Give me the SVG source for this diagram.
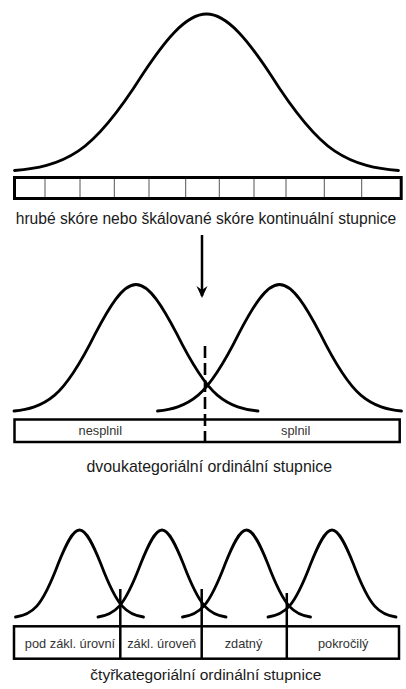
<svg xmlns="http://www.w3.org/2000/svg" xmlns:xlink="http://www.w3.org/1999/xlink" width="406" height="689" viewBox="0 0 406 689">
<style>
.curve{fill:none;stroke:#000;stroke-width:2.8;stroke-linejoin:round;stroke-linecap:round}
.box{fill:#fff;stroke:#000;stroke-width:2.5}
.cell{stroke:#555;stroke-width:1}
.cut{stroke:#000;stroke-width:2.5}
.cap{font-family:"Liberation Sans",Arial,sans-serif;fill:#1a1a1a;text-anchor:middle}
.lab{font-family:"Liberation Sans",Arial,sans-serif;font-size:12.8px;fill:#333;text-anchor:middle}
</style>
<defs>
<path id="g2" d="M-122,411 C-108.5,409.6 -94.9,406.6 -81.3,395.1 C-67.8,383.6 -54.2,360.7 -40.7,333.6 C-27.1,307.7 -13.6,284.5 0,284.5 C13.6,284.5 27.1,307.7 40.7,333.6 C54.2,360.7 67.8,383.6 81.3,395.1 C94.9,406.6 108.5,409.6 122,411"/>
<path id="g4" d="M-64,617 C-56.9,616 -49.8,614 -42.7,606.1 C-35.6,598.1 -28.4,582.4 -21.3,563.7 C-14.2,546 -7.1,530 0,530 C7.1,530 14.2,546 21.3,563.7 C28.4,582.4 35.6,598.1 42.7,606.1 C49.8,614 56.9,616 64,617"/>
<marker id="ah" viewBox="0 0 12 12" refX="10" refY="6" markerWidth="12" markerHeight="12" markerUnits="userSpaceOnUse" orient="auto">
<path d="M0,0.5 L12,6 L0,11.5 L4,6 Z" fill="#000"/>
</marker>
</defs>

<g id="continuous">
<path class="curve" d="M14.5,170.5 C35.8,168.7 57.2,165.1 78.5,150.8 C99.8,136.5 121.2,108.1 142.5,74.4 C163.8,42.3 185.2,14 206.5,14 C227.8,14 249.2,42.3 270.5,74.4 C291.8,108.1 313.2,136.5 334.5,150.8 C355.8,165.1 377.2,168.7 398.5,170.5"/>
<rect class="box" x="14.5" y="177.5" width="386.7" height="21" style="stroke-width:3"/>
<g class="cell">
<line x1="45" y1="179" x2="45" y2="197"/>
<line x1="80" y1="179" x2="80" y2="197"/>
<line x1="114.3" y1="179" x2="114.3" y2="197"/>
<line x1="149" y1="179" x2="149" y2="197"/>
<line x1="185.7" y1="179" x2="185.7" y2="197"/>
<line x1="219.3" y1="179" x2="219.3" y2="197"/>
<line x1="254" y1="179" x2="254" y2="197"/>
<line x1="286" y1="179" x2="286" y2="197"/>
<line x1="324.3" y1="179" x2="324.3" y2="197"/>
<line x1="361.7" y1="179" x2="361.7" y2="197"/>
</g>
<text class="cap" x="206" y="224" style="font-size:15.6px">hrubé skóre nebo škálované skóre kontinuální stupnice</text>
</g>

<g id="connectors">
<line x1="202" y1="235" x2="202" y2="296" stroke="#000" stroke-width="2.5" marker-end="url(#ah)"/>
</g>

<g id="two-category">
<use href="#g2" xlink:href="#g2" x="136" class="curve"/>
<use href="#g2" xlink:href="#g2" x="279.5" class="curve"/>
<rect class="box" x="14.5" y="419.5" width="385.2" height="22.5" style="fill:none"/>
<line x1="205" y1="346" x2="205" y2="447" stroke="#000" stroke-width="2.6" stroke-dasharray="12,5"/>
<text class="lab" x="100.3" y="435">nesplnil</text>
<text class="lab" x="295.7" y="435">splnil</text>
<text class="cap" x="209.3" y="472" style="font-size:15.9px">dvoukategoriální ordinální stupnice</text>
</g>

<g id="four-category">
<use href="#g4" xlink:href="#g4" x="79.5" class="curve"/>
<use href="#g4" xlink:href="#g4" x="162" class="curve"/>
<use href="#g4" xlink:href="#g4" x="246.5" class="curve"/>
<use href="#g4" xlink:href="#g4" x="332" class="curve"/>
<rect class="box" x="14" y="626.3" width="385" height="32.4" style="fill:none"/>
<line class="cut" x1="120.3" y1="589" x2="120.3" y2="659"/>
<line class="cut" x1="201.7" y1="589" x2="201.7" y2="659"/>
<line class="cut" x1="286.8" y1="593" x2="286.8" y2="659"/>
<text class="lab" x="70" y="648">pod zákl. úrovní</text>
<text class="lab" x="161.7" y="648">zákl. úroveň</text>
<text class="lab" x="243.5" y="648">zdatný</text>
<text class="lab" x="343.2" y="648">pokročilý</text>
<text class="cap" x="205.8" y="680" style="font-size:15.5px">čtyřkategoriální ordinální stupnice</text>
</g>
</svg>
